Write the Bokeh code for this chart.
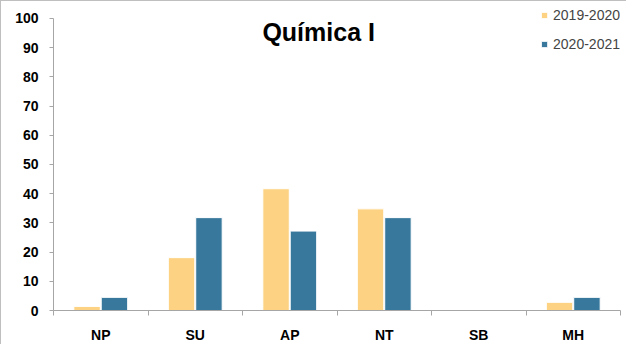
from bokeh.plotting import figure
from bokeh.models import Range1d, FixedTicker, Legend, LegendItem, Label, ColumnDataSource
from bokeh.transform import dodge
from bokeh.embed import file_html
from bokeh.resources import INLINE

categories = ["NP", "SU", "AP", "NT", "SB", "MH"]
series_names = ["2019-2020", "2020-2021"]
values_2019 = [1.4, 18.1, 41.7, 34.8, 0.0, 2.8]
values_2020 = [4.5, 31.8, 27.2, 31.8, 0.0, 4.5]
y_ticks = [0, 10, 20, 30, 40, 50, 60, 70, 80, 90, 100]
title_text = "Química I"

FONT = "Liberation Sans"
YELLOW = "#FDD383"
BLUE = "#37789C"
AXIS = "#A6A6A6"

n = len(categories)
centers = [i + 0.5 for i in range(n)]
bounds = list(range(n + 1))
src = ColumnDataSource(dict(pos=centers, a=values_2019, b=values_2020))

p = figure(width=626, height=344, output_backend="svg", toolbar_location=None,
           x_range=Range1d(0, n), y_range=Range1d(0, 103.75),
           min_border_left=52, min_border_right=7, min_border_top=6, min_border_bottom=34)
p.styles = {"border-left": "1px solid #BFBFBF", "border-top": "1px solid #BFBFBF"}
p.outline_line_color = None
p.grid.visible = False

r1 = p.vbar(x=dodge("pos", -0.145), top="a", width=0.28, source=src,
            fill_color=YELLOW, line_color="white", line_width=1)
r2 = p.vbar(x=dodge("pos", 0.145), top="b", width=0.28, source=src,
            fill_color=BLUE, line_color="white", line_width=1)

# y axis
ya = p.yaxis[0]
ya.bounds = (0, 100)
ya.ticker = FixedTicker(ticks=y_ticks)
ya.minor_tick_line_color = None
ya.major_tick_in = 0
ya.major_tick_out = 4
ya.axis_line_color = AXIS
ya.major_tick_line_color = AXIS
ya.major_label_standoff = 11
ya.major_label_text_font = FONT
ya.major_label_text_font_style = "bold"
ya.major_label_text_font_size = "14px"
ya.major_label_text_color = "black"

# x axis: labels at category centres, boundary ticks as minor ticks
xa = p.xaxis[0]
xa.ticker = FixedTicker(ticks=centers, minor_ticks=bounds)
xa.major_label_overrides = {c: lab for c, lab in zip(centers, categories)}
xa.major_tick_line_color = None
xa.major_tick_in = 0
xa.major_tick_out = 0
xa.minor_tick_in = 0
xa.minor_tick_out = 5
xa.minor_tick_line_color = AXIS
xa.axis_line_color = AXIS
xa.major_label_standoff = 11
xa.major_label_text_font = FONT
xa.major_label_text_font_style = "bold"
xa.major_label_text_font_size = "14px"
xa.major_label_text_color = "black"

# title
p.add_layout(Label(x=2.806, y=95.4, text=title_text, text_align="center",
                   text_baseline="middle", text_font=FONT, text_font_style="bold",
                   text_font_size="25px", text_color="black"))

legend = Legend(items=[LegendItem(label=series_names[0], renderers=[r1]),
                       LegendItem(label=series_names[1], renderers=[r2])],
                location="top_right", margin=0, padding=0, spacing=13,
                glyph_width=8, glyph_height=8, label_standoff=5, label_height=16,
                label_text_font=FONT, label_text_font_size="14px",
                border_line_color=None, background_fill_alpha=0)
p.add_layout(legend, "center")

open("out.html", "w").write(file_html(p, INLINE))
